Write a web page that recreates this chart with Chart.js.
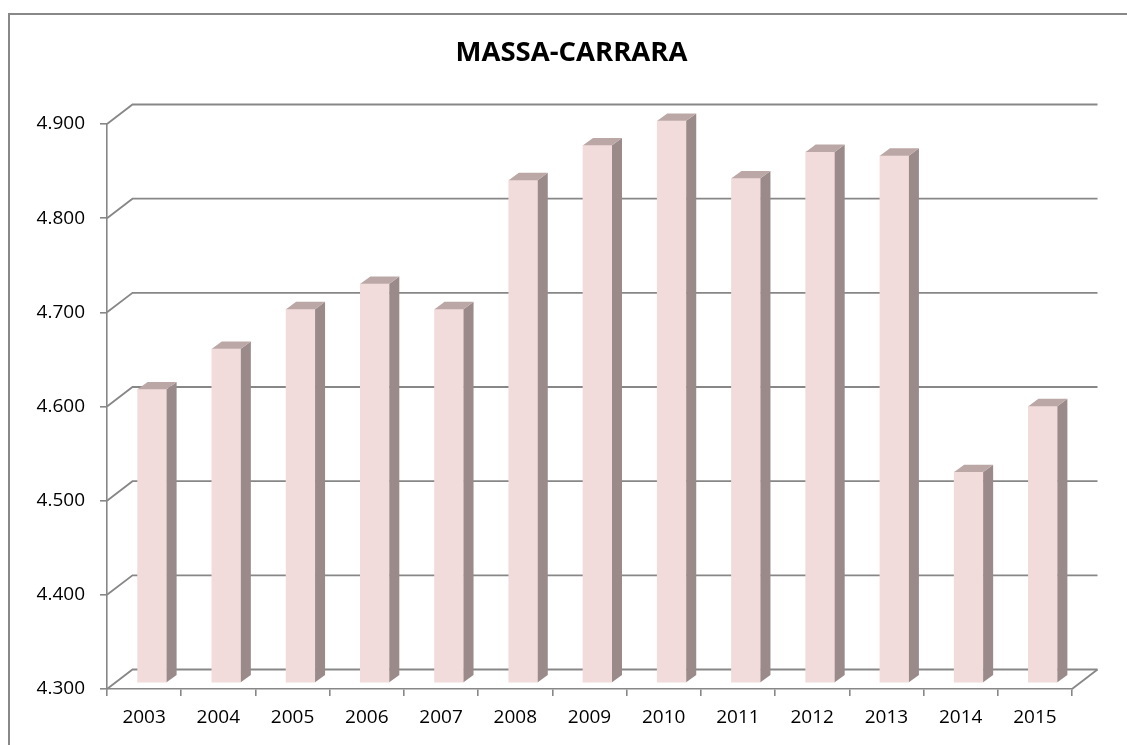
<!DOCTYPE html>
<html>
<head>
<meta charset="utf-8">
<script src="https://cdn.jsdelivr.net/npm/chart.js@4.4.1/dist/chart.umd.min.js"></script>
<style>
  html, body { margin: 0; padding: 0; background: #fff; }
  #wrap { width: 1127px; height: 745px; }
</style>
</head>
<body>
<div id="wrap"><canvas id="myChart" width="1127" height="745"></canvas></div>
<script>
// data
const years = ['2003', '2004', '2005', '2006', '2007', '2008', '2009', '2010', '2011', '2012', '2013', '2014', '2015'];
const values = [4612, 4655, 4697, 4724, 4697, 4834, 4871, 4897, 4836, 4864, 4860, 4524, 4594];
const yTicks = [4300, 4400, 4500, 4600, 4700, 4800, 4900];
const chartTitle = 'MASSA-CARRARA';

// fake 3d: back wall offset and bar depth
const WALL_DX = 25.5, WALL_DY = -19.5;
const BAR_DX = 8, BAR_DY = -6;
const SIDE_DX = 10, SIDE_DY = -7.3;
const lineGray = '#878787';

const fmt = v => Math.floor(v / 1000) + '.' + String(v % 1000).padStart(3, '0');

const frame3d = {
    id: 'frame3d',
    beforeDraw(chart) {
        const c = chart.ctx;
        c.save();
        c.strokeStyle = '#888';
        c.lineWidth = 2;
        c.beginPath();
        c.moveTo(9, 745);
        c.lineTo(9, 14);
        c.lineTo(1127, 14);
        c.stroke();
        c.restore();
    },
    beforeDatasetsDraw(chart) {
        const c = chart.ctx;
        const a = chart.chartArea;
        const y = chart.scales.y;
        c.save();
        c.strokeStyle = lineGray;
        c.lineWidth = 1.8;
        yTicks.forEach(v => {
            const py = y.getPixelForValue(v);
            c.beginPath();
            c.moveTo(a.left, py);
            c.lineTo(a.left + WALL_DX, py + WALL_DY);
            c.lineTo(a.right + WALL_DX, py + WALL_DY);
            c.stroke();
        });
        // floor right edge
        c.beginPath();
        c.moveTo(a.right, a.bottom);
        c.lineTo(a.right + WALL_DX, a.bottom + WALL_DY);
        c.stroke();
        c.restore();

        c.save();
        c.translate(BAR_DX, BAR_DY);
    },
    afterDatasetsDraw(chart) {
        const c = chart.ctx;
        chart.getDatasetMeta(0).data.forEach(bar => {
            const p = bar.getProps(['x', 'y', 'base', 'width'], true);
            const l = p.x - p.width / 2, r = p.x + p.width / 2;
            c.fillStyle = '#9a8b8a';
            c.beginPath();
            c.moveTo(r, p.y);
            c.lineTo(r + SIDE_DX, p.y + SIDE_DY);
            c.lineTo(r + SIDE_DX, p.base + SIDE_DY);
            c.lineTo(r, p.base);
            c.closePath();
            c.fill();
            c.fillStyle = '#bba7a6';
            c.beginPath();
            c.moveTo(l, p.y);
            c.lineTo(r, p.y);
            c.lineTo(r + SIDE_DX, p.y + SIDE_DY);
            c.lineTo(l + SIDE_DX, p.y + SIDE_DY);
            c.closePath();
            c.fill();
        });
        c.restore();
    }
};

const ctx = document.getElementById('myChart');
const myChart = new Chart(ctx, {
    type: 'bar',
    data: {
        labels: years,
        datasets: [{
            data: values,
            base: 4300,
            backgroundColor: '#f2dcdb',
            borderWidth: 0,
            barThickness: 29,
            clip: false,
        }]
    },
    options: {
        responsive: false,
        animation: false,
        devicePixelRatio: 1,
        layout: {
            padding: { left: 16, right: 0, top: 0, bottom: 0 }
        },
        plugins: {
            legend: { display: false },
            tooltip: { enabled: false },
            title: {
                display: true,
                text: chartTitle,
                color: '#000',
                font: { family: 'Open Sans', size: 27.5, weight: 'bold', lineHeight: 1.2 },
                padding: { top: 36.5, bottom: 54.5 }
            }
        },
        scales: {
            x: {
                grid: {
                    offset: true,
                    drawOnChartArea: false,
                    drawTicks: true,
                    tickLength: 7,
                    color: lineGray,
                    lineWidth: 1.6
                },
                border: { display: true, color: lineGray, width: 1.6 },
                ticks: {
                    color: '#000',
                    font: { family: 'Open Sans', size: 19 },
                    padding: 10,
                    maxRotation: 0,
                    autoSkip: false
                },
                afterFit: s => { s.height = 56; }
            },
            y: {
                min: 4300,
                max: 4900,
                grid: {
                    drawOnChartArea: false,
                    drawTicks: true,
                    tickLength: 7,
                    color: lineGray,
                    lineWidth: 1.6
                },
                border: { display: true, color: lineGray, width: 1.6 },
                ticks: {
                    stepSize: 100,
                    color: '#000',
                    font: { family: 'Open Sans', size: 19 },
                    padding: 15,
                    callback: function(value) {
                        return fmt(value);
                    }
                },
                afterFit: s => { s.width = 91; }
            },
            // empty right axis only to hold the right margin
            yRight: {
                position: 'right',
                min: 4300,
                max: 4900,
                grid: { display: false },
                border: { display: false },
                ticks: { display: false },
                afterFit: s => { s.width = 55; }
            }
        }
    },
    plugins: [frame3d]
});
</script>
</body>
</html>
